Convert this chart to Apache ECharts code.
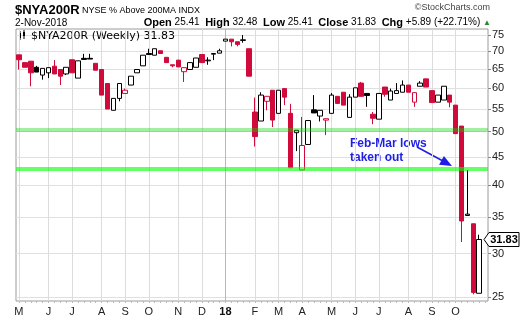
<!DOCTYPE html>
<html><head><meta charset="utf-8">
<script src="https://cdn.jsdelivr.net/npm/echarts@6/dist/echarts.min.js"></script>
<style>html,body{margin:0;padding:0;background:#fff}#c{width:520px;height:318px}</style>
</head><body><div id="c"></div>
<script>
// Weekly bars keyed by week start (Monday); last entry is an empty padding week
const weeks = [
 '2017-05-01','2017-05-08','2017-05-15','2017-05-22','2017-05-29','2017-06-05','2017-06-12','2017-06-19','2017-06-26',
 '2017-07-03','2017-07-10','2017-07-17','2017-07-24','2017-07-31','2017-08-07','2017-08-14','2017-08-21','2017-08-28',
 '2017-09-04','2017-09-11','2017-09-18','2017-09-25','2017-10-02','2017-10-09','2017-10-16','2017-10-23','2017-10-30',
 '2017-11-06','2017-11-13','2017-11-20','2017-11-27','2017-12-04','2017-12-11','2017-12-18','2017-12-25',
 '2018-01-01','2018-01-08','2018-01-15','2018-01-22','2018-01-29','2018-02-05','2018-02-12','2018-02-19','2018-02-26',
 '2018-03-05','2018-03-12','2018-03-19','2018-03-26','2018-04-02','2018-04-09','2018-04-16','2018-04-23','2018-04-30',
 '2018-05-07','2018-05-14','2018-05-21','2018-05-28','2018-06-04','2018-06-11','2018-06-18','2018-06-25',
 '2018-07-02','2018-07-09','2018-07-16','2018-07-23','2018-07-30','2018-08-06','2018-08-13','2018-08-20','2018-08-27',
 '2018-09-03','2018-09-10','2018-09-17','2018-09-24','2018-10-01','2018-10-08','2018-10-15','2018-10-22','2018-10-29',
 '2018-11-05'
];
const opens  = [69.0,66.8,67.2,65.5,63.4,64.0,65.8,64.9,63.7,67.6,62.6,68.0,68.0,66.6,64.9,61.2,54.7,57.5,58.7,60.8,
                64.0,65.9,69.4,68.9,70.2,68.3,66.2,67.5,64.3,64.9,65.5,69.1,67.3,69.2,69.5,73.1,73.7,72.9,73.3,70.8,
                54.3,52.3,56.8,59.5,54.0,59.9,54.0,49.8,42.6,47.4,54.8,53.4,52.5,54.0,58.0,59.0,53.1,57.8,61.3,58.7,
                53.8,52.7,60.3,57.1,58.7,59.0,60.8,56.6,60.5,62.4,59.4,56.6,57.1,58.3,55.9,51.2,35.2,34.0,25.41];
const closes = [67.6,65.5,64.0,64.2,65.2,65.4,63.7,63.1,65.5,64.0,67.3,67.7,67.8,64.7,58.3,55.0,57.5,61.2,59.5,63.1,
                64.9,68.9,69.1,70.8,69.4,66.8,65.9,65.6,65.4,66.8,68.1,66.8,67.5,69.4,70.2,73.7,72.9,72.1,73.5,63.1,
                49.0,58.3,58.0,52.5,59.5,57.8,43.0,50.3,47.2,52.4,54.1,54.7,52.8,58.3,56.3,55.9,57.8,60.1,58.0,58.2,
                52.9,58.7,58.5,59.3,59.4,60.8,59.0,58.9,61.3,60.3,56.5,58.3,60.5,56.6,49.6,34.4,35.4,25.5,31.83];
const lows   = [64.9,65.5,60.5,64.2,62.2,62.6,63.7,60.8,63.4,64.0,62.6,67.7,67.8,64.7,58.3,55.0,54.7,56.8,58.7,60.8,
                64.0,65.9,69.1,68.9,69.4,66.8,65.5,65.6,61.6,64.9,65.5,66.8,66.2,67.5,69.5,73.1,71.5,71.5,72.6,63.1,
                47.0,52.3,54.7,51.0,54.0,55.9,43.0,46.1,42.6,47.4,54.1,52.2,49.3,54.0,56.3,55.9,53.1,57.8,58.0,55.5,
                51.6,52.7,57.9,57.1,58.7,59.0,59.0,55.5,60.5,60.3,56.5,56.6,57.1,55.4,49.6,31.5,35.2,25.3,25.41];
const highs  = [69.0,66.8,67.2,65.9,65.2,65.4,67.5,64.9,65.5,67.6,67.3,69.3,69.3,66.6,64.9,61.2,57.5,61.2,59.9,63.1,
                64.9,68.9,70.8,70.8,70.2,68.3,66.2,67.5,65.4,66.8,68.1,69.1,68.3,69.5,70.8,73.7,73.7,72.9,75.0,70.8,
                57.7,59.0,58.0,59.5,59.5,59.9,56.2,50.3,53.2,52.4,58.3,54.7,52.8,58.8,58.0,59.0,58.5,60.1,61.6,58.7,
                54.3,58.7,60.3,59.9,61.3,62.0,60.8,58.9,61.8,62.4,59.4,58.3,60.5,58.3,55.9,51.2,42.6,34.0,32.48];
const yTicks = [25,30,35,40,45,50,55,60,65,70,75];
const supportLevels = [50.4, 42.8];
const monthLetters = ['J','F','M','A','M','J','J','A','S','O','N','D'];

const RED = '#d10a3c', BLACK = '#000';
const candles = opens.map((o, i) => {
  const c = closes[i];
  const col = (i > 0 && c > closes[i - 1]) ? BLACK : RED;
  const fill = c > o ? '#fff' : col;
  return { value: [o, c, lows[i], highs[i]],
           itemStyle: { color: fill, color0: fill, borderColor: col, borderColor0: col, borderWidth: 1 } };
});
const isMonthStart = i => i < closes.length && (i === 0 || weeks[i].slice(5, 7) !== weeks[i - 1].slice(5, 7));
const monthIdx = weeks.map((w, i) => i).filter(isMonthStart);

const chart = echarts.init(document.getElementById('c'), null, { renderer: 'canvas' });
const option = {
  animation: false,
  grid: { left: 16, right: 32, top: 29, bottom: 17, show: true, borderColor: '#9a9a9a', borderWidth: 1, backgroundColor: '#fff' },
  xAxis: {
    type: 'category', data: weeks, boundaryGap: true,
    axisLine: { show: false },
    axisTick: { show: true, interval: 0, alignWithLabel: true, length: 2, lineStyle: { color: '#bbb' } },
    axisLabel: {
      interval: (i) => isMonthStart(i), margin: 5, fontSize: 11, fontFamily: 'Arial', color: '#222',
      formatter: (v) => { const m = +v.slice(5, 7) - 1; return m === 0 ? '{yr|' + v.slice(2, 4) + '}' : monthLetters[m]; },
      rich: { yr: { fontWeight: 'bold', fontSize: 11, fontFamily: 'Arial', color: '#111' } }
    },
    splitLine: { show: false }
  },
  yAxis: {
    type: 'log', logBase: 10, position: 'right', min: 24.6, max: 76.9,
    axisLine: { show: false },
    axisTick: { show: true, length: 3, customValues: yTicks, lineStyle: { color: '#888' } },
    axisLabel: { customValues: yTicks, margin: 4, fontSize: 11, fontFamily: 'Arial', color: '#222' },
    splitLine: { show: true, lineStyle: { color: '#e0e0e0' } }
  },
  series: [
    {
      type: 'candlestick', z: 2, barWidth: 5, data: candles,
      markLine: {
        silent: true, symbol: 'none', label: { show: false }, z: 5,
        data: [
          { yAxis: supportLevels[0], lineStyle: { color: 'rgba(0,215,0,0.37)', width: 4, type: 'solid' } },
          { yAxis: supportLevels[1], lineStyle: { color: 'rgba(0,255,0,0.6)', width: 4, type: 'solid' } }
        ]
      }
    },
    {
      type: 'line', data: [], z: 1,
      markLine: {
        silent: true, symbol: 'none', label: { show: false }, z: 1,
        data: monthIdx.map(i => ({ xAxis: i, lineStyle: { color: weeks[i].slice(5, 7) === '01' ? '#b8b8b8' : '#dcdcdc', width: 1, type: 'solid' } }))
      }
    }
  ]
};
chart.setOption(option);

const last = closes.length - 1;
const cy = chart.convertToPixel({ gridIndex: 0 }, [last, closes[last]])[1];
chart.setOption({
  graphic: [
    { type: 'text', x: 15, y: 4, style: { text: '$NYA200R', font: 'bold 13px Arial', fill: '#000' } },
    { type: 'text', x: 82, y: 6, style: { text: 'NYSE % Above 200MA INDX', font: '9px Arial', fill: '#000' } },
    { type: 'text', x: 490, y: 3, style: { text: '\u00a9StockCharts.com', font: '9px Arial', fill: '#444', textAlign: 'right' } },
    { type: 'text', x: 15, y: 18, style: { text: '2-Nov-2018', font: '10px Arial', fill: '#000' } },
    { type: 'text', x: 491, y: 17, style: {
        text: '{b|Open} 25.41  {b|High} 32.48  {b|Low} 25.41  {b|Close} 31.83  {b|Chg} +5.89 (+22.71%) {g|\u25b2}',
        font: '10px Arial', fill: '#000', textAlign: 'right',
        rich: { b: { font: 'bold 11px Arial', fill: '#000' }, g: { font: '8px Arial', fill: '#2a8a2a' } } } },
    { type: 'rect', shape: { x: 19, y: 33, width: 2, height: 5 }, style: { fill: '#000' } },
    { type: 'rect', shape: { x: 23, y: 32, width: 2, height: 4 }, style: { fill: '#000' } },
    { type: 'line', shape: { x1: 20, y1: 31, x2: 20, y2: 40 }, style: { stroke: '#000', lineWidth: 1 } },
    { type: 'line', shape: { x1: 24, y1: 30, x2: 24, y2: 39 }, style: { stroke: '#000', lineWidth: 1 } },
    { type: 'text', x: 31, y: 31, style: { text: '$NYA200R (Weekly) 31.83', font: '11px "DejaVu Sans"', fill: '#000' } },
    { type: 'text', x: 350, y: 137, style: { text: 'Feb-Mar lows\ntaken out', font: 'bold 12px Arial', lineHeight: 14, fill: '#1e1ee6' } },
    { type: 'line', shape: { x1: 417, y1: 147, x2: 442, y2: 160.5 }, style: { stroke: '#1e1ee6', lineWidth: 1.5 } },
    { type: 'polygon', shape: { points: [[452, 166], [439.1, 164.7], [443.9, 155.9]] }, style: { fill: '#1e1ee6' } },
    { type: 'polygon', shape: { points: [[484, cy], [489, cy - 7], [519, cy - 7], [519, cy + 7], [489, cy + 7]] },
      style: { fill: '#fff', stroke: '#000', lineWidth: 1 } },
    { type: 'text', x: 504, y: cy, style: { text: '31.83', font: 'bold 11px Arial', fill: '#000', textAlign: 'center', textVerticalAlign: 'middle' } }
  ]
});
</script>
</body></html>
